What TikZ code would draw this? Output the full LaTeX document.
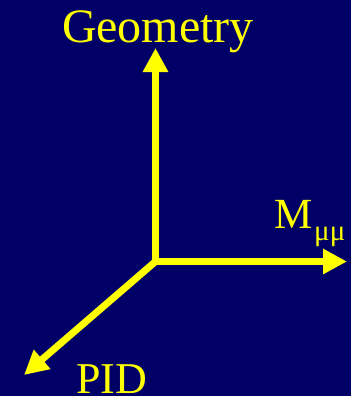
\documentclass[tikz,border=0pt]{standalone}
\usepackage{fontspec}
\setmainfont{Liberation Serif}
\usetikzlibrary{arrows.meta}
\definecolor{bgnavy}{RGB}{0,0,102}
\definecolor{axisyellow}{RGB}{255,255,0}
\tikzset{
  axisarrow/.style={draw=axisyellow, line width=7pt, -{Triangle[length=24pt,width=24pt]}},
  axislabel/.style={text=axisyellow, inner sep=0pt, outer sep=0pt},
}
\begin{document}
\begin{tikzpicture}[x=1pt,y=-1pt]
\fill[bgnavy] (0,0) rectangle (351,396);
\useasboundingbox (0,0) rectangle (351,396);
\coordinate (O) at (155.5,261.5);
\coordinate (top) at (155.5,48);
\coordinate (right) at (347,261.5);
\coordinate (diag) at (24,375);
\draw[axisarrow] (O) -- (top);
\draw[axisarrow] (O) -- (right);
\draw[axisarrow] (O) -- (diag);
\node[axislabel, anchor=base west] (geo) at (62,43) {\fontsize{48}{50}\selectfont Geometry};
\node[axislabel, anchor=base west] (mass) at (274,228) {\fontsize{43}{46}\selectfont M\hspace{2pt}\raisebox{-12pt}{\fontsize{29}{30}\selectfont μμ}};
\node[axislabel, anchor=base west] (pid) at (76,393) {\fontsize{44}{46}\selectfont PID};
\end{tikzpicture}
\end{document}
